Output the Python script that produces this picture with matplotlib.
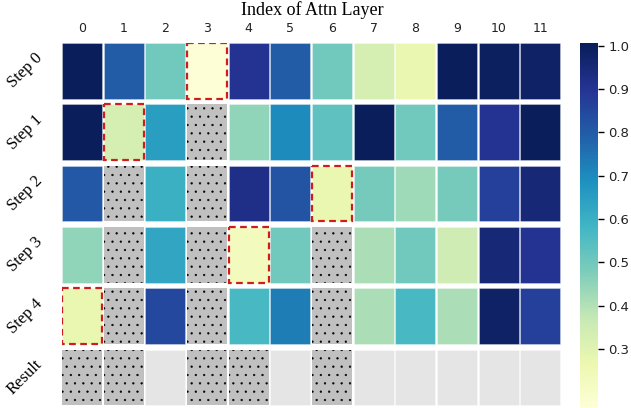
import numpy as np
import matplotlib
matplotlib.use("Agg")
import matplotlib.pyplot as plt
from matplotlib.patches import Rectangle
from matplotlib.colors import Normalize
import matplotlib.cm as cm

# scores per step (nan = pruned layer)
nan = np.nan
layers = list(range(12))
steps = ["Step 0", "Step 1", "Step 2", "Step 3", "Step 4"]
scores = [
    [1.00, 0.80, 0.50, 0.17, 0.90, 0.80, 0.50, 0.33, 0.27, 1.00, 0.99, 0.98],
    [1.00, 0.33, 0.65, nan,  0.45, 0.70, 0.53, 1.00, 0.50, 0.80, 0.90, 1.00],
    [0.81, nan,  0.60, nan,  0.92, 0.82, 0.27, 0.49, 0.43, 0.49, 0.87, 0.95],
    [0.45, nan,  0.63, nan,  0.23, 0.50, nan,  0.41, 0.50, 0.35, 0.95, 0.90],
    [0.27, nan,  0.85, nan,  0.57, 0.73, nan,  0.41, 0.57, 0.41, 0.98, 0.87],
]
selected = [3, 1, 6, 4, 0]          # layer removed at each step
result_pruned = [0, 1, 3, 4, 6]
vmin, vmax = 0.157, 1.006

plt.rcParams["hatch.linewidth"] = 0.4
cmap = plt.get_cmap("YlGnBu")
norm = Normalize(vmin=vmin, vmax=vmax)

fig = plt.figure(figsize=(6.31, 4.08), dpi=100)
ax = fig.add_axes([0.0983, -0.0074, 0.7924, 0.902])
cax = fig.add_axes([0.919, -0.0074, 0.0285, 0.902])

cw, ch = 0.96, 0.91
rows = steps + ["Result"]


def pruned_cell(j, i):
    ax.add_patch(Rectangle((j, i), cw, ch, facecolor="#c0c0c0",
                           edgecolor="black", lw=0, hatch=".."))


for i, row in enumerate(scores):
    for j, v in enumerate(row):
        if np.isnan(v):
            pruned_cell(j, i)
        else:
            ax.add_patch(Rectangle((j, i), cw, ch, facecolor=cmap(norm(v)),
                                   edgecolor=(1, 1, 1, 0.35), lw=0.6))
    ax.add_patch(Rectangle((selected[i], i), cw, ch, fill=False,
                           edgecolor="#d01c1c", lw=1.6, linestyle=(0, (3, 2))))

ri = len(steps)
for j in layers:
    if j in result_pruned:
        pruned_cell(j, ri)
    else:
        ax.add_patch(Rectangle((j, ri), cw, ch, facecolor="#e5e5e5",
                               edgecolor=(1, 1, 1, 0.35), lw=0.6))

ax.set_xlim(0, 12)
ax.set_ylim(6, 0)
for s in ax.spines.values():
    s.set_visible(False)

ax.xaxis.tick_top()
ax.xaxis.set_label_position("top")
ax.set_xticks(np.arange(12) + cw / 2)
ax.set_xticklabels([str(l) for l in layers], fontsize=9, color="#222222")
ax.tick_params(axis="x", length=0, pad=6)
ax.set_xlabel("Index of Attn Layer", fontsize=13, fontfamily="Liberation Serif", labelpad=5)

ax.set_yticks(np.arange(6) + ch / 2)
ax.set_yticklabels(rows, rotation=45, ha="right", va="center", fontsize=12)
for t in ax.get_yticklabels():
    t.set_fontfamily("Liberation Serif")
ax.tick_params(axis="y", length=0, pad=12)

sm = cm.ScalarMappable(norm=norm, cmap=cmap)
cb = fig.colorbar(sm, cax=cax)
cb.set_ticks([0.3, 0.4, 0.5, 0.6, 0.7, 0.8, 0.9, 1.0])
cb.outline.set_visible(False)
cax.tick_params(labelsize=9.5, length=4, width=1, labelcolor="#222222")

fig.savefig("out.png", dpi=100)
